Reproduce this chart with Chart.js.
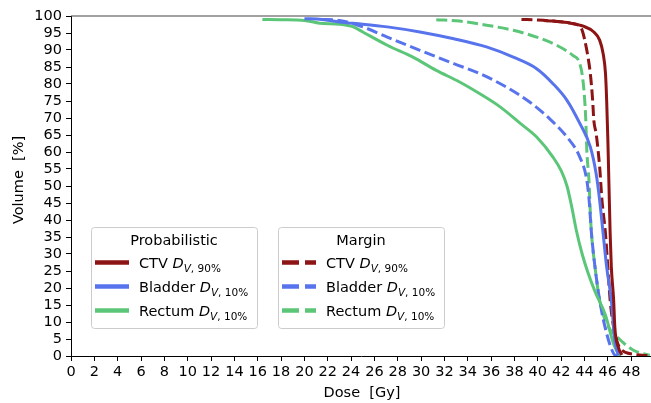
<!DOCTYPE html>
<html lang="en">
<head>
  <meta charset="UTF-8">
  <title>DVH comparison</title>
  <script src="https://cdn.jsdelivr.net/npm/chart.js"></script>
  <style>
    body { margin: 0; background: #fff; }
    #wrap { width: 651px; height: 403px; }
  </style>
</head>
<body>
  <div id="wrap"><canvas id="dvh" width="651" height="403"></canvas></div>
  <script>
    // axis ticks
    const doseTicks = [0, 2, 4, 6, 8, 10, 12, 14, 16, 18, 20, 22, 24, 26, 28, 30, 32, 34, 36, 38, 40, 42, 44, 46, 48];
    const volumeTicks = [0, 5, 10, 15, 20, 25, 30, 35, 40, 45, 50, 55, 60, 65, 70, 75, 80, 85, 90, 95, 100];

    // Probabilistic (solid)
    const ctvProbDose = [40.5, 41.3, 42.8, 43.9, 44.8, 45.3, 45.6, 45.8, 45.9, 46.0, 46.1, 46.2, 46.3, 46.5, 46.6, 46.9, 47.2];
    const ctvProbVol  = [98.7, 98.5, 97.9, 97.0, 95.3, 92.9, 88.9, 83.1, 75.2, 64.0, 50.0, 36.0, 26.2, 16.4, 8.5, 2.6, 0.3];

    const bladderProbDose = [20.0, 21.5, 23.0, 25.0, 27.1, 29.9, 32.8, 35.6, 37.9, 39.9, 41.3, 42.5, 43.6, 44.5, 45.0, 45.3, 45.6, 45.9, 46.3, 46.6, 46.9];
    const bladderProbVol  = [99.2, 99.0, 98.2, 97.6, 96.8, 95.3, 93.3, 90.9, 87.9, 84.5, 80.1, 75.2, 68.4, 61.5, 53.6, 45.8, 36.0, 26.2, 16.4, 4.6, 0.2];

    const rectumProbDose = [16.4, 18.0, 20.0, 21.3, 23.0, 24.2, 25.0, 27.1, 29.3, 31.3, 33.3, 35.0, 36.8, 38.5, 39.9, 41.3, 42.0, 42.5, 42.9, 43.3, 43.8, 44.3, 44.9, 45.8, 46.5, 46.9, 47.1];
    const rectumProbVol  = [99.0, 98.9, 98.7, 97.9, 97.6, 96.8, 95.3, 91.4, 87.9, 84.0, 80.6, 77.2, 73.2, 68.4, 64.4, 58.5, 54.5, 50.0, 44.0, 37.0, 30.0, 24.5, 19.0, 12.0, 3.5, 0.7, 0.0];

    // Margin (dashed)
    const ctvMarginDose = [38.6, 40.0, 41.3, 42.8, 43.5, 43.8, 44.2, 44.5, 44.7, 44.8, 45.0, 45.3, 45.5, 45.8, 46.0, 46.2, 46.5, 47.0, 48.2, 49.6];
    const ctvMarginVol  = [99.0, 98.8, 98.5, 97.9, 97.2, 95.8, 89.9, 83.1, 75.2, 69.3, 65.4, 55.6, 45.8, 36.0, 26.2, 16.4, 8.5, 2.6, 0.5, 0.1];

    const bladderMarginDose = [21.5, 23.0, 25.0, 27.1, 29.9, 32.8, 35.0, 37.3, 39.3, 41.0, 42.5, 43.6, 44.2, 44.4, 44.6, 44.9, 45.3, 45.9, 46.5, 46.8];
    const bladderMarginVol  = [99.0, 98.7, 96.8, 93.8, 89.9, 86.0, 83.1, 79.1, 74.7, 69.8, 64.4, 58.5, 51.7, 45.8, 36.0, 26.2, 16.4, 6.6, 0.7, 0.0];

    const rectumMarginDose = [31.3, 33.3, 35.6, 37.9, 39.9, 41.6, 43.0, 43.6, 43.9, 44.1, 44.2, 44.4, 44.5, 44.6, 44.9, 45.3, 45.9, 46.8, 48.2, 49.6];
    const rectumMarginVol  = [98.9, 98.5, 97.3, 95.8, 93.8, 91.4, 88.4, 86.0, 80.1, 70.3, 60.5, 50.7, 42.0, 36.0, 26.2, 16.4, 9.5, 5.6, 1.7, 0.2];

    const RED = '#8c1414';
    const BLUE = '#5874ec';
    const GREEN = '#5cc678';
    const FONT = '"DejaVu Sans", sans-serif';
    const FS = 14.5;

    function pts(xs, ys) {
      return xs.map((x, i) => ({ x: x, y: ys[i] }));
    }

    function series(label, xs, ys, color, dashed) {
      return {
        label: label,
        data: pts(xs, ys),
        borderColor: color,
        backgroundColor: color,
        borderWidth: 3,
        borderDash: dashed ? [11, 4.5] : [],
        pointRadius: 0,
        fill: false,
        cubicInterpolationMode: 'monotone'
      };
    }

    // label like "CTV D_{V,90%}"
    function mathLabel(ctx, x, y, name, sub) {
      ctx.textBaseline = 'alphabetic';
      ctx.textAlign = 'left';
      ctx.fillStyle = '#000';
      ctx.font = FS + 'px ' + FONT;
      ctx.fillText(name + ' ', x, y);
      x += ctx.measureText(name + ' ').width;
      ctx.font = 'italic ' + FS + 'px ' + FONT;
      ctx.fillText('D', x, y);
      x += ctx.measureText('D').width;
      ctx.font = 'italic 10.5px ' + FONT;
      ctx.fillText('V', x, y + 4);
      x += ctx.measureText('V').width;
      ctx.font = '10.5px ' + FONT;
      ctx.fillText(', ' + sub, x, y + 4);
    }

    function legendBox(ctx, left, title, entries, dashed) {
      const top = 227, w = 166, h = 101;
      ctx.save();
      ctx.beginPath();
      ctx.roundRect(left + 0.5, top + 0.5, w, h, 3);
      ctx.fillStyle = 'rgba(255,255,255,0.8)';
      ctx.fill();
      ctx.strokeStyle = '#cccccc';
      ctx.lineWidth = 1;
      ctx.stroke();
      ctx.fillStyle = '#000';
      ctx.font = FS + 'px ' + FONT;
      ctx.textAlign = 'center';
      ctx.textBaseline = 'alphabetic';
      ctx.fillText(title, left + w / 2, 245);
      entries.forEach((e, i) => {
        const y = 262.5 + i * 24;
        ctx.beginPath();
        ctx.strokeStyle = e.color;
        ctx.lineWidth = 4.3;
        ctx.setLineDash(dashed ? [17, 6] : []);
        ctx.moveTo(left + 4, y);
        ctx.lineTo(left + 38, y);
        ctx.stroke();
        ctx.setLineDash([]);
        mathLabel(ctx, left + 48, y + 5, e.name, e.sub);
      });
      ctx.restore();
    }

    const decor = {
      id: 'decor',
      afterDraw(chart) {
        const ctx = chart.ctx;
        const a = chart.chartArea;
        ctx.save();
        // top spine
        ctx.beginPath();
        ctx.strokeStyle = '#444';
        ctx.lineWidth = 1.2;
        ctx.moveTo(a.left, a.top);
        ctx.lineTo(a.right, a.top);
        ctx.stroke();
        // axis titles
        ctx.fillStyle = '#000';
        ctx.font = FS + 'px ' + FONT;
        ctx.textAlign = 'center';
        ctx.textBaseline = 'alphabetic';
        ctx.fillText('Dose  [Gy]', 362, 397);
        ctx.translate(23, 180);
        ctx.rotate(-Math.PI / 2);
        ctx.fillText('Volume  [%]', 0, 0);
        ctx.restore();

        const entries = [
          { name: 'CTV', sub: '90%', color: RED },
          { name: 'Bladder', sub: '10%', color: BLUE },
          { name: 'Rectum', sub: '10%', color: GREEN }
        ];
        legendBox(ctx, 91, 'Probabilistic', entries, false);
        legendBox(ctx, 278, 'Margin', entries, true);
      }
    };

    new Chart(document.getElementById('dvh'), {
      type: 'line',
      data: {
        datasets: [
          series('CTV probabilistic', ctvProbDose, ctvProbVol, RED, false),
          series('Bladder probabilistic', bladderProbDose, bladderProbVol, BLUE, false),
          series('Rectum probabilistic', rectumProbDose, rectumProbVol, GREEN, false),
          series('CTV margin', ctvMarginDose, ctvMarginVol, RED, true),
          series('Bladder margin', bladderMarginDose, bladderMarginVol, BLUE, true),
          series('Rectum margin', rectumMarginDose, rectumMarginVol, GREEN, true)
        ]
      },
      options: {
        responsive: false,
        animation: false,
        devicePixelRatio: 1,
        layout: { padding: { top: 16, right: 0, left: 0, bottom: 0 } },
        plugins: { legend: { display: false }, tooltip: { enabled: false } },
        scales: {
          x: {
            type: 'linear',
            min: 0,
            max: 49.7,
            afterBuildTicks: s => { s.ticks = doseTicks.map(v => ({ value: v })); },
            afterFit: s => { s.height = 47; },
            grid: { drawOnChartArea: false, drawTicks: true, tickLength: 5, color: '#000' },
            border: { display: true, color: '#000', width: 1 },
            ticks: { color: '#000', font: { family: FONT, size: FS }, padding: 3, maxRotation: 0, autoSkip: false }
          },
          y: {
            type: 'linear',
            min: 0,
            max: 100,
            afterBuildTicks: s => { s.ticks = volumeTicks.map(v => ({ value: v })); },
            afterFit: s => { s.width = 71; },
            grid: { drawOnChartArea: false, drawTicks: true, tickLength: 5, color: '#000' },
            border: { display: true, color: '#000', width: 1 },
            ticks: { color: '#000', font: { family: FONT, size: FS }, padding: 4, autoSkip: false }
          }
        }
      },
      plugins: [decor]
    });
  </script>
</body>
</html>
